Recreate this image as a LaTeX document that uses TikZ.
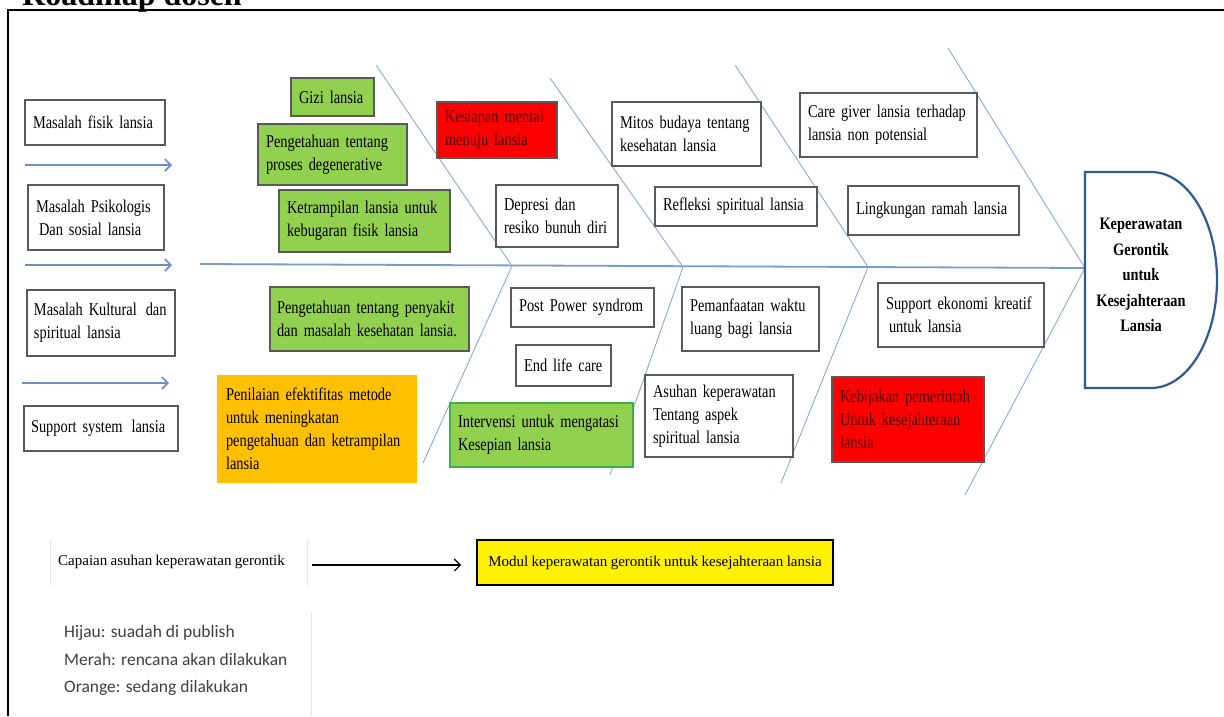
\documentclass[tikz,border=0pt]{standalone}
\usepackage{fontspec}
\usetikzlibrary{arrows.meta}
\newfontfamily\bxf[FakeStretch=0.8,WordSpace=0.75]{Liberation Serif}
\newfontfamily\hdf[FakeStretch=0.82,WordSpace=0.8]{Liberation Serif}
\newfontfamily\wdf[FakeStretch=1.0,WordSpace=0.9]{Liberation Serif}
\newfontfamily\ttlf{Liberation Serif}
\newfontfamily\lgf{Carlito}
\definecolor{boxgray}{HTML}{595959}
\definecolor{grn}{HTML}{92D050}
\definecolor{grnborder}{HTML}{3DAE49}
\definecolor{orng}{HTML}{FFC000}
\definecolor{darkred}{HTML}{500000}
\definecolor{bonec}{HTML}{8DAAD6}
\definecolor{spinec}{HTML}{7A9CCB}
\definecolor{arrowc}{HTML}{6A8FC4}
\definecolor{headc}{HTML}{2F5A8F}
\definecolor{legendgray}{HTML}{404040}
\definecolor{faintc}{HTML}{E6E6E6}
\begin{document}
\begin{tikzpicture}[x=1pt,y=-1pt,
  box/.style={draw=boxgray, line width=1.2pt, inner xsep=8pt, inner ysep=1pt, align=left,
    font=\bxf\fontsize{18}{23}\selectfont},
  wbox/.style={box, fill=white},
  gbox/.style={box, fill=grn},
  rbox/.style={box, fill=red, text=darkred},
  obox/.style={box, fill=orng, draw=none},
  bone/.style={draw=bonec, line width=0.9pt},
  spine/.style={draw=spinec, line width=1.8pt},
  barrow/.style={draw=arrowc, line width=1.6pt, -{Straight Barb[length=6pt,width=12pt]}},
  karrow/.style={draw=black, line width=1.2pt, -{Straight Barb[length=6pt,width=12pt]}},
  faint/.style={draw=faintc, line width=0.8pt}
]
\useasboundingbox (0,0) rectangle (1224,716);
\fill[white] (0,0) rectangle (1224,716);

% title and frame
\node[anchor=base west, inner sep=0pt, font=\ttlf\bfseries\fontsize{32}{34}\selectfont] (title) at (22,5) {Roadmap dosen};
\coordinate (fbl) at (8,716);
\coordinate (ftl) at (8,10);
\coordinate (ftr) at (1224,10);
\draw[line width=2pt] (fbl) -- (ftl) -- (ftr);

% fishbone
\coordinate (tail) at (200,264);
\coordinate (j1) at (512,266);
\coordinate (j2) at (683,267);
\coordinate (j3) at (868,267);
\coordinate (hw) at (1085,268);
\coordinate (u1) at (376,65);
\coordinate (u2) at (550,78);
\coordinate (u3) at (735,65);
\coordinate (u4) at (948,48);
\coordinate (d1) at (423,463);
\coordinate (d2) at (610,475);
\coordinate (d3) at (781,483);
\coordinate (d4) at (965,495);
\draw[spine] (tail) -- (hw);
\draw[bone] (u1) -- (j1) -- (d1);
\draw[bone] (u2) -- (j2) -- (d2);
\draw[bone] (u3) -- (j3) -- (d3);
\draw[bone] (u4) -- (hw) -- (d4);

% head
\draw[draw=headc, line width=2.2pt, fill=white] (1085,172) -- (1151,172)
  .. controls (1187.5,172) and (1217,220.4) .. (1217,280)
  .. controls (1217,339.6) and (1187.5,388) .. (1151,388) -- (1085,388) -- cycle;
\node[font=\hdf\bfseries\fontsize{17.5}{25.5}\selectfont, align=center] (head) at (1141,275)
  {Keperawatan\\Gerontik\\untuk\\Kesejahteraan\\Lansia};

% left column
\node[wbox, minimum width=140pt, minimum height=45pt, text width=124pt] (l1) at (95,122.5) {Masalah fisik lansia};
\node[wbox, minimum width=136pt, minimum height=65pt, text width=120pt] (l2) at (96,217.5) {Masalah Psikologis\\\hspace{3pt}Dan sosial lansia};
\node[wbox, minimum width=148pt, minimum height=66pt, text width=134pt, inner xsep=7pt] (l3) at (101,323) {Masalah Kultural\hspace{9pt}dan\\spiritual lansia};
\node[wbox, minimum width=154pt, minimum height=45pt, text width=140pt, inner xsep=7pt] (l4) at (101,428.5) {Support system\hspace{9pt}lansia};
\coordinate (a1s) at (25,165);
\coordinate (a1e) at (172,165);
\coordinate (a2s) at (25,265);
\coordinate (a2e) at (172,265);
\coordinate (a3s) at (22,383);
\coordinate (a3e) at (169,383);
\draw[barrow] (a1s) -- (a1e);
\draw[barrow] (a2s) -- (a2e);
\draw[barrow] (a3s) -- (a3e);

% green boxes
\node[gbox, minimum width=83pt, minimum height=38pt, text width=67pt] (g1) at (332.5,97) {Gizi lansia};
\node[gbox, minimum width=149pt, minimum height=61pt, text width=133pt] (g2) at (332.5,154.5) {Pengetahuan tentang\\proses degenerative};
\node[gbox, minimum width=171pt, minimum height=62pt, text width=155pt] (g3) at (364.5,221) {Ketrampilan lansia untuk\\kebugaran fisik lansia};
\node[gbox, minimum width=199pt, minimum height=64pt, text width=185pt, inner xsep=7pt] (g4) at (369.5,319) {Pengetahuan tentang penyakit\\dan masalah kesehatan lansia.};
\node[gbox, draw=grnborder, line width=1.8pt, minimum width=183pt, minimum height=64pt, text width=167pt] (g5) at (541.5,435) {Intervensi untuk mengatasi\\Kesepian lansia};

% orange
\node[obox, minimum width=200pt, minimum height=108pt, text width=182pt, inner xsep=9pt] (o1) at (317,429) {Penilaian efektifitas metode\\untuk meningkatan\\pengetahuan dan ketrampilan\\lansia};

% red
\node[rbox, minimum width=120pt, minimum height=56pt, text width=104pt] (r1) at (497,130) {Kesiapan mental\\menuju lansia};
\node[rbox, minimum width=152pt, minimum height=85pt, text width=136pt] (r2) at (908,419.5) {Kebijakan pemerintah\\Untuk kesejahteraan\\lansia};

% white
\node[wbox, minimum width=122pt, minimum height=62pt, text width=106pt] (w1) at (557,216) {Depresi dan\\resiko bunuh diri};
\node[wbox, minimum width=149pt, minimum height=64pt, text width=133pt] (w2) at (686.5,134) {Mitos budaya tentang\\kesehatan lansia};
\node[wbox, minimum width=162pt, minimum height=39pt, text width=146pt] (w3) at (736,206.5) {Refleksi spiritual lansia};
\node[wbox, minimum width=177pt, minimum height=64pt, text width=161pt] (w4) at (888.5,125) {Care giver lansia terhadap\\lansia non potensial};
\node[wbox, minimum width=171pt, minimum height=49pt, text width=155pt] (w5) at (933.5,210.5) {Lingkungan ramah lansia};
\node[wbox, minimum width=143pt, minimum height=39pt, text width=127pt] (w6) at (582.5,307.5) {Post Power syndrom};
\node[wbox, minimum width=95pt, minimum height=41pt, text width=79pt] (w7) at (563.5,365.5) {End life care};
\node[wbox, minimum width=137pt, minimum height=64pt, text width=121pt] (w8) at (750.5,319) {Pemanfaatan waktu\\luang bagi lansia};
\node[wbox, minimum width=148pt, minimum height=82pt, text width=132pt] (w9) at (719,416) {Asuhan keperawatan\\Tentang aspek\\spiritual lansia};
\node[wbox, minimum width=166pt, minimum height=64pt, text width=150pt] (w10) at (961,315) {Support ekonomi kreatif\\\hspace{3pt}untuk lansia};

% bottom
\draw[faint] (50,540) -- (50,586);
\draw[faint] (307,540) -- (307,586);
\draw[faint] (311,612) -- (311,716);
\node[anchor=west, inner sep=0pt, font=\wdf\fontsize{15}{16}\selectfont] (cap) at (58,562) {Capaian asuhan keperawatan gerontik};
\node[draw=black, line width=1.6pt, fill=yellow, minimum width=356pt, minimum height=45pt, inner sep=0pt,
  font=\wdf\fontsize{15}{16}\selectfont] (modul) at (655,562.5) {Modul keperawatan gerontik untuk kesejahteraan lansia};
\draw[karrow] ([xshift=27pt,yshift=-3pt]cap.east) -- ([xshift=-15pt,yshift=-2.5pt]modul.west);

% legend
\node[anchor=west, inner sep=0pt, align=left, text=legendgray, font=\lgf\fontsize{17.5}{27.5}\selectfont] (legend) at (64,660.5)
  {Hijau: suadah di publish\\Merah: rencana akan dilakukan\\Orange: sedang dilakukan};
\end{tikzpicture}
\end{document}
